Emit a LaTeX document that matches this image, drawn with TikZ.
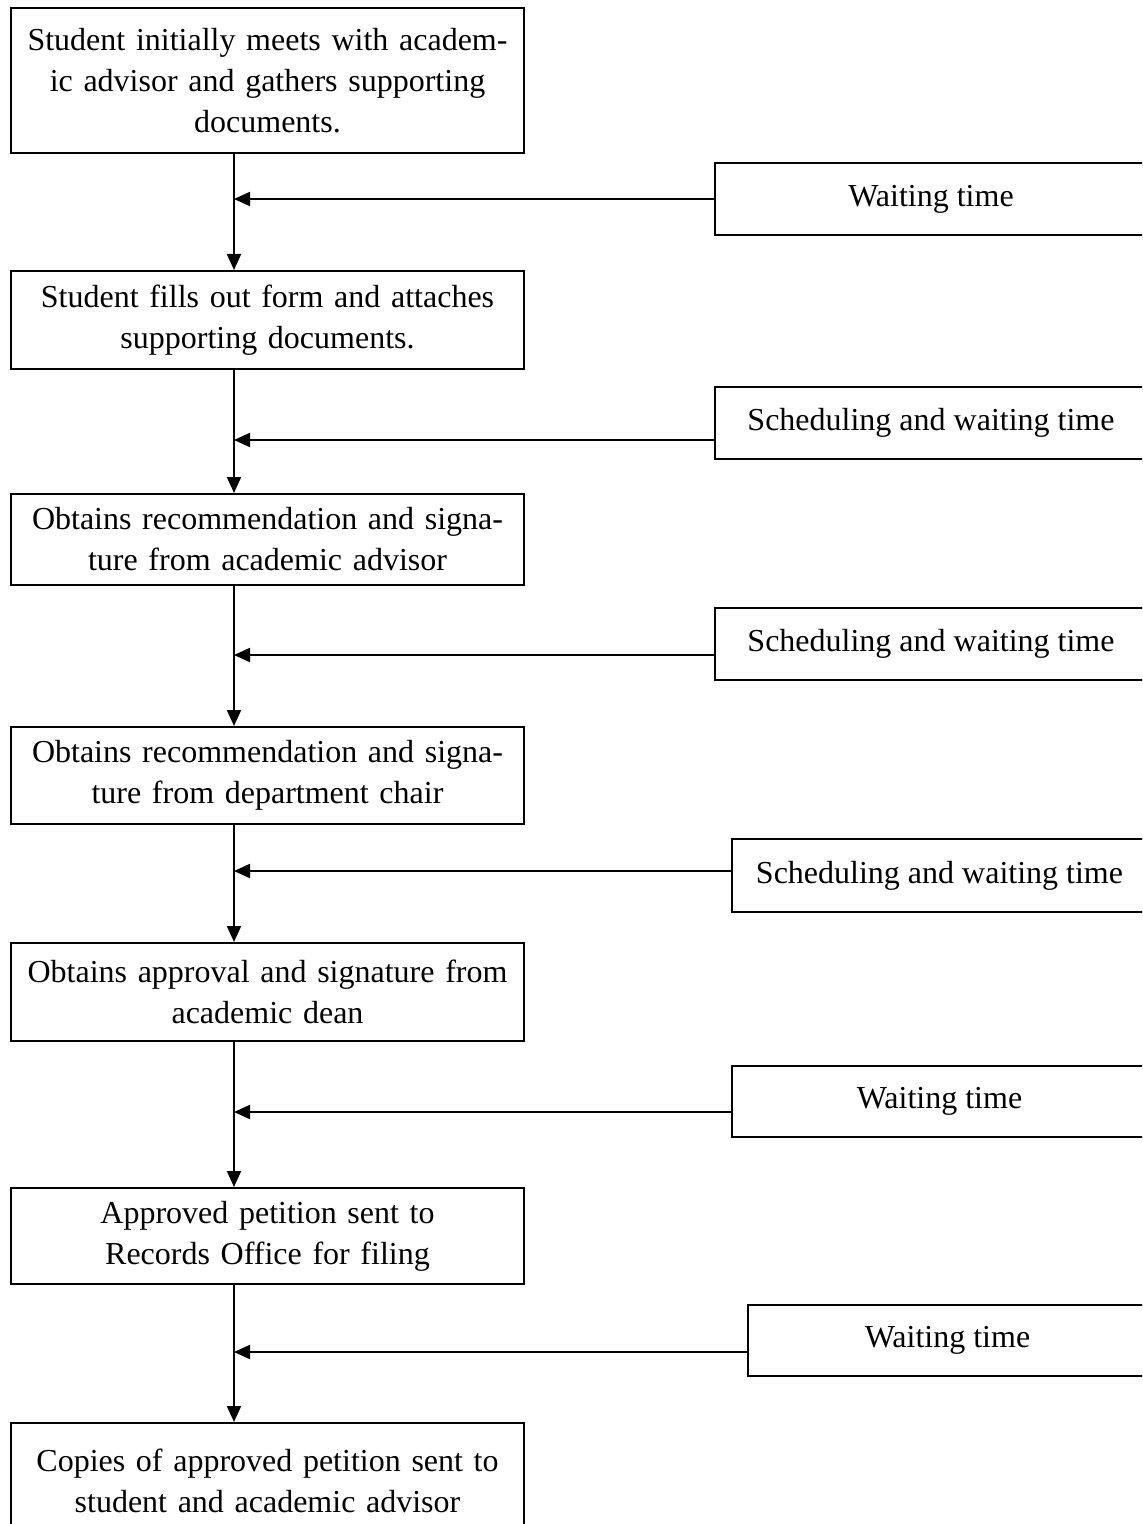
\documentclass[tikz,border=0pt]{standalone}
\usepackage{fontspec}
\setmainfont{Liberation Serif}
\usetikzlibrary{arrows.meta}
\begin{document}
\begin{tikzpicture}[x=0.5pt,y=-0.5pt,
  every node/.style={font=\fontsize{16}{20.5}\selectfont},
  lbox/.style={draw,line width=1pt,anchor=north west,inner xsep=0pt,inner ysep=0pt,
     text width=256.5pt,align=center},
  rbox/.style={draw,line width=1pt,anchor=north west,inner sep=0pt,
     minimum width=216pt,align=center},
  conn/.style={line width=1pt,-{Triangle[length=8pt,width=7pt]}},
  link/.style={line width=1pt}]
\useasboundingbox (0,0) rectangle (1142,1524);
\clip (0,0) rectangle (1142,1524);
% left boxes
\node[lbox,minimum height=72.5pt] (b1) at (10,7) {Student initially meets with academ-\\ic advisor and gathers supporting\\documents.};
\node[lbox,minimum height=49pt] (b2) at (10,270) {Student fills out form and attaches\\supporting documents.};
\node[lbox,minimum height=45.5pt] (b3) at (10,493) {Obtains recommendation and signa-\\ture from academic advisor};
\node[lbox,minimum height=48.5pt] (b4) at (10,726) {Obtains recommendation and signa-\\ture from department chair};
\node[lbox,minimum height=49pt] (b5) at (10,942) {Obtains approval and signature from\\academic dean};
\node[lbox,minimum height=48pt] (b6) at (10,1187) {Approved petition sent to\\Records Office for filing};
\node[lbox,minimum height=58pt] (b7) at (10,1422) {Copies of approved petition sent to\\student and academic advisor};
% right boxes
\node[rbox,minimum height=36pt,minimum width=216pt] (w1) at (714,162) {Waiting time};
\node[rbox,minimum height=36pt,minimum width=216pt] (w2) at (714,386) {Scheduling and waiting time};
\node[rbox,minimum height=36pt,minimum width=216pt] (w3) at (714,607) {Scheduling and waiting time};
\node[rbox,minimum height=36.5pt,minimum width=207.5pt] (w4) at (731,838) {Scheduling and waiting time};
\node[rbox,minimum height=35.5pt,minimum width=207.5pt] (w5) at (731,1065) {Waiting time};
\node[rbox,minimum height=35.5pt,minimum width=199.5pt] (w6) at (747,1304) {Waiting time};
% junctions on the main line
\coordinate (j1) at (234,199);
\coordinate (j2) at (234,440);
\coordinate (j3) at (234,655);
\coordinate (j4) at (234,871);
\coordinate (j5) at (234,1112);
\coordinate (j6) at (234,1352);
% vertical flow
\draw[conn] (b1.south -| j1) -- (b2.north -| j1);
\draw[conn] (b2.south -| j1) -- (b3.north -| j1);
\draw[conn] (b3.south -| j1) -- (b4.north -| j1);
\draw[conn] (b4.south -| j1) -- (b5.north -| j1);
\draw[conn] (b5.south -| j1) -- (b6.north -| j1);
\draw[conn] (b6.south -| j1) -- (b7.north -| j1);
% horizontal inputs
\draw[conn] (j1 -| w1.west) -- (j1);
\draw[conn] (j2 -| w2.west) -- (j2);
\draw[conn] (j3 -| w3.west) -- (j3);
\draw[conn] (j4 -| w4.west) -- (j4);
\draw[conn] (j5 -| w5.west) -- (j5);
\draw[conn] (j6 -| w6.west) -- (j6);
\end{tikzpicture}
\end{document}
